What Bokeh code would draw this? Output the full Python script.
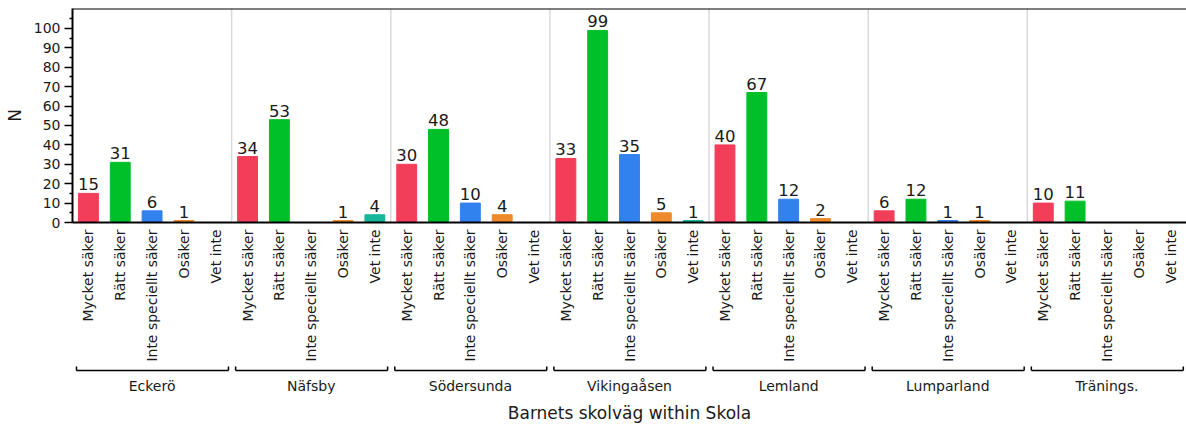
import math
from bokeh.plotting import figure
from bokeh.models import Range1d, FixedTicker, Span, ColumnDataSource
from bokeh.layouts import column
from bokeh.embed import file_html
from bokeh.resources import INLINE
from bokeh.core.properties import value

schools = ["Eckerö", "Näfsby", "Södersunda", "Vikingaåsen", "Lemland", "Lumparland", "Tränings."]
answers = ["Mycket säker", "Rätt säker", "Inte speciellt säker", "Osäker", "Vet inte"]

mycket_saker = [15, 34, 30, 33, 40, 6, 10]
ratt_saker = [31, 53, 48, 99, 67, 12, 11]
inte_speciellt_saker = [6, 0, 10, 35, 12, 1, 0]
osaker = [1, 1, 4, 5, 2, 1, 0]
vet_inte = [0, 4, 0, 1, 0, 0, 0]

y_ticks = [0, 10, 20, 30, 40, 50, 60, 70, 80, 90, 100]
y_minor_ticks = [5, 15, 25, 35, 45, 55, 65, 75, 85, 95, 105]

series = [mycket_saker, ratt_saker, inte_speciellt_saker, osaker, vet_inte]
answer_colors = ["#f23e58", "#00c02a", "#3181ee", "#ee8a2b", "#16b79b"]

FONT = value("DejaVu Sans")
TXT = "#1a1a1a"
Y_END = 110.3

n_ans = len(answers)
n_cat = len(schools) * n_ans

# slot index of each (school, answer) pair; the bar sits in the middle of its slot
xs, ns, cols = [], [], []
lx, ln, lt = [], [], []
for si, s in enumerate(schools):
    for ai, a in enumerate(answers):
        n = series[ai][si]
        slot = si * n_ans + ai + 0.5
        xs.append(slot)
        ns.append(n)
        cols.append(answer_colors[ai])
        if n > 0:
            lx.append(slot)
            ln.append(n)
            lt.append(str(n))

src = ColumnDataSource(dict(x=xs, n=ns, color=cols))
lab_src = ColumnDataSource(dict(x=lx, n=ln, label=lt))

x_range = Range1d(0, n_cat)

W = 1186
LEFT = 72
BOTTOM = 142
p = figure(x_range=x_range, y_range=Range1d(0, Y_END), width=W, height=8 + 214 + BOTTOM,
           output_backend="svg", toolbar_location=None,
           min_border_left=LEFT, min_border_right=0, min_border_top=8,
           min_border_bottom=BOTTOM)
p.background_fill_color = "white"
p.border_fill_color = "white"
p.outline_line_color = None
p.xgrid.grid_line_color = None
p.ygrid.grid_line_color = None

for i in range(1, len(schools)):
    p.add_layout(Span(location=i * n_ans, dimension="height",
                      line_color="#d9d9d9", line_width=1.5, level="underlay"))
p.add_layout(Span(location=Y_END, dimension="width", line_color="black", line_width=2))

p.vbar(x="x", top="n", width=0.625, color="color", source=src)
p.text(x="x", y="n", text="label", source=lab_src, text_align="center",
       text_baseline="bottom", y_offset=-3, text_font=FONT, text_font_size="16.5px",
       text_color=TXT)

# answer labels on the bottom axis, one per slot
xa = p.xaxis[0]
xa.ticker = FixedTicker(ticks=xs, minor_ticks=[])
xa.major_label_overrides = {x: answers[i % n_ans] for i, x in enumerate(xs)}
xa.major_label_orientation = math.pi / 2
xa.major_label_text_font = "DejaVu Sans"
xa.major_label_text_font_size = "14px"
xa.major_label_text_color = TXT
xa.major_label_standoff = 7
xa.major_tick_out = 0
xa.major_tick_in = 0
xa.minor_tick_out = 0
xa.minor_tick_in = 0
xa.axis_line_width = 2
xa.axis_line_color = "black"

ya = p.yaxis[0]
ya.ticker = FixedTicker(ticks=y_ticks, minor_ticks=y_minor_ticks)
ya.axis_label = "N"
ya.axis_label_text_font = "DejaVu Sans"
ya.axis_label_text_font_size = "17px"
ya.axis_label_text_font_style = "normal"
ya.axis_label_text_color = TXT
ya.axis_label_standoff = 6
ya.major_label_text_font = "DejaVu Sans"
ya.major_label_text_font_size = "14px"
ya.major_label_text_color = TXT
ya.major_label_standoff = 4
ya.axis_line_width = 2
ya.axis_line_color = "black"
ya.major_tick_out = 8
ya.major_tick_in = 0
ya.minor_tick_out = 3
ya.minor_tick_in = 0
ya.major_tick_line_width = 1.5
ya.minor_tick_line_width = 1.5

# lower panel: group brackets, group names, axis title
H2 = 426 - (8 + 214 + BOTTOM)
q = figure(x_range=x_range, y_range=Range1d(0, H2), width=W, height=H2,
           output_backend="svg", toolbar_location=None,
           x_axis_location=None, y_axis_location=None,
           min_border_left=LEFT, min_border_right=0, min_border_top=0, min_border_bottom=0)
q.outline_line_color = None
q.xgrid.grid_line_color = None
q.ygrid.grid_line_color = None
q.background_fill_color = "white"
q.border_fill_color = "white"

ny = len(schools)
bx0 = [si * n_ans + 0.125 for si in range(ny)]
bx1 = [(si + 1) * n_ans - 0.1 for si in range(ny)]
gx = [si * n_ans + n_ans / 2 for si in range(ny)]
q.segment(x0=bx0, y0=[56] * ny, x1=bx1, y1=[56] * ny, line_color="black", line_width=1.5)
q.segment(x0=bx0, y0=[56] * ny, x1=bx0, y1=[60] * ny, line_color="black", line_width=1.5)
q.segment(x0=bx1, y0=[56] * ny, x1=bx1, y1=[60] * ny, line_color="black", line_width=1.5)

q.text(x=gx, y=[41] * ny, text=schools, text_align="center",
       text_baseline="middle", text_font=FONT, text_font_size="14px", text_color=TXT)

q.text(x=[n_cat / 2], y=[14], text=["Barnets skolväg within Skola"],
       text_align="center", text_baseline="middle", text_font=FONT,
       text_font_size="17px", text_color=TXT)

layout = column(p, q, spacing=0)
open("out.html", "w").write(file_html(layout, INLINE))
